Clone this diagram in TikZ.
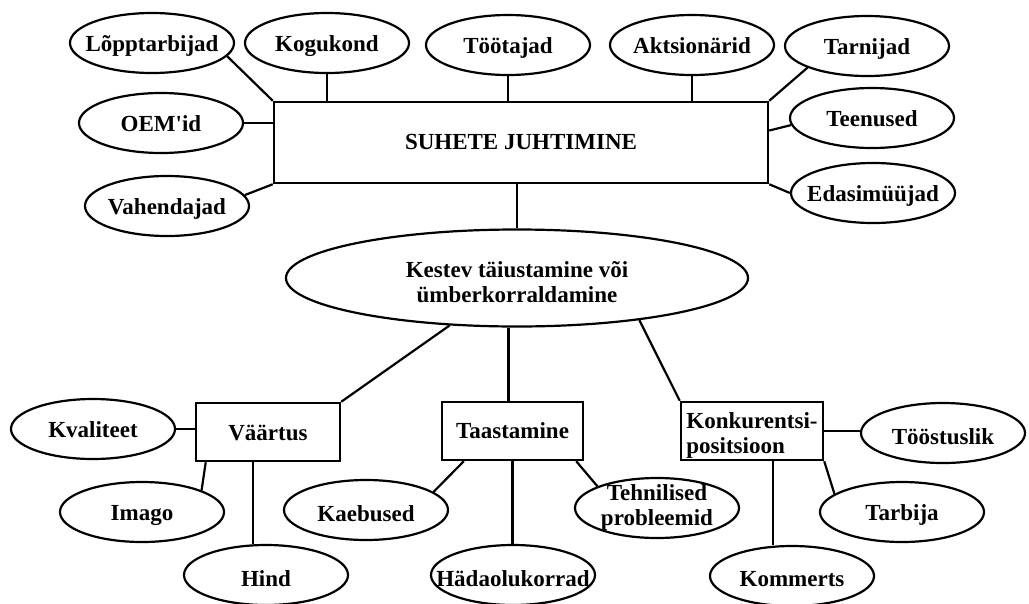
\documentclass[tikz,border=0pt]{standalone}
\usepackage{fontspec}
\setmainfont{Liberation Serif}
\usetikzlibrary{shapes.geometric}
\newcommand\ctext[2][0pt]{\makebox[0pt]{\smash{\raisebox{\dimexpr-8.3pt-#1\relax}{#2}}}}
\newcommand\ctwo[3]{\makebox[0pt]{\smash{\raisebox{#3}{\begin{tabular}[b]{@{}c@{}}#1\\#2\end{tabular}}}}}
\newcommand\ctwol[3]{\makebox[0pt]{\smash{\raisebox{#3}{\begin{tabular}[b]{@{}l@{}}#1\\#2\end{tabular}}}}}
\begin{document}
\begin{tikzpicture}[x=1pt,y=-1pt,
  font=\fontsize{23}{25}\selectfont\bfseries,
  ell/.style={ellipse,draw,line width=2.2pt,minimum width=164pt,minimum height=60pt,inner sep=0pt},
  box/.style={rectangle,draw,line width=2.5pt,inner sep=0pt},
  conn/.style={line width=2.2pt}]
\fill[white] (0,0) rectangle (1029,603);
\useasboundingbox (0,0) rectangle (1029,603);
% top ellipses
\node[ell] (lop) at (152,43) {\ctext{Lõpptarbijad}};
\node[ell] (kog) at (327,43) {\ctext{Kogukond}};
\node[ell] (toot) at (508,45) {\ctext{Töötajad}};
\node[ell] (akt) at (692,45) {\ctext{Aktsionärid}};
\node[ell] (tar) at (867,46) {\ctext{Tarnijad}};
\node[ell] (oem) at (161,123) {\ctext{OEM\textquotesingle id}};
\node[ell] (vah) at (167,206) {\ctext{Vahendajad}};
\node[ell] (tee) at (872,118) {\ctext{Teenused}};
\node[ell] (eda) at (873,193) {\ctext{Edasimüüjad}};
\node[box,minimum width=494pt,minimum height=81pt] (main) at (521,142.5) {\ctext[-1.5pt]{SUHETE JUHTIMINE}};
% middle
\node[ell,minimum width=462pt,minimum height=97pt] (kes) at (517,278) {\ctwo{Kestev täiustamine või}{ümberkorraldamine}{-24pt}};
% lower boxes
\node[box,minimum width=144pt,minimum height=58pt] (vaa) at (268,432) {\ctext{Väärtus}};
\node[box,minimum width=141pt,minimum height=58pt] (taa) at (512.5,431) {\ctext[-1.3pt]{Taastamine}};
\node[box,minimum width=142pt,minimum height=58pt] (kon) at (752,431) {\ctwol{Konkurentsi-}{positsioon}{-22pt}};
% lower ellipses
\node[ell] (kva) at (93,429) {\ctext{Kvaliteet}};
\node[ell] (ima) at (142,512) {\ctext{Imago}};
\node[ell] (hin) at (266,575) {\ctext[3.5pt]{Hind}};
\node[ell] (kae) at (366,510) {\ctext[3.5pt]{Kaebused}};
\node[ell] (had) at (513,575) {\ctext[3.5pt]{Hädaolukorrad}};
\node[ell] (teh) at (657,508) {\ctwo{Tehnilised}{probleemid}{-17pt}};
\node[ell] (toos) at (943,433) {\ctext[3.5pt]{Tööstuslik}};
\node[ell] (tarb) at (902,512) {\ctext{Tarbija}};
\node[ell] (kom) at (792,576) {\ctext[2.5pt]{Kommerts}};
% connectors top
\draw[conn] (lop.-10) -- (main.north west);
\draw[conn] (kog.south) -- (kog.south |- main.north);
\draw[conn] (toot.south) -- (toot.south |- main.north);
\draw[conn] (akt.south) -- (akt.south |- main.north);
\draw[conn] (tar.200) -- (main.north east);
\draw[conn] (oem.east) -- (oem.east -| main.west);
\draw[conn] (vah.8) -- (main.south west);
\draw[conn] (tee.185) -- ([yshift=12pt]main.east);
\draw[conn] (eda.west) -- (main.south east);
\draw[conn] (kes.north |- main.south) -- (kes.north);
% connectors middle
\draw[conn] (kes) -- (vaa.north east);
\draw[conn] ([xshift=-4pt]taa.north |- kes.south) -- ([xshift=-4pt]taa.north);
\draw[conn] (kes.341) -- (kon.north west);
% connectors lower
\draw[conn] (kva.east) -- (kva.east -| vaa.west);
\draw[conn] ([xshift=11pt]vaa.south west) -- (ima.20);
\draw[conn] ([xshift=-15pt]vaa.south) -- ([xshift=-15pt]vaa.south |- hin.north);
\draw[conn] ([xshift=23pt]taa.south west) -- (kae.15);
\draw[conn] (taa.south) -- (taa.south |- had.north);
\draw[conn] ([xshift=-8pt]taa.south east) -- (teh.160);
\draw[conn] (kon.east) -- (kon.east -| toos.west);
\draw[conn] (kon.south east) -- (tarb.165);
\draw[conn] ([xshift=21pt]kon.south) -- ([xshift=21pt]kon.south |- kom.north);
\end{tikzpicture}
\end{document}
